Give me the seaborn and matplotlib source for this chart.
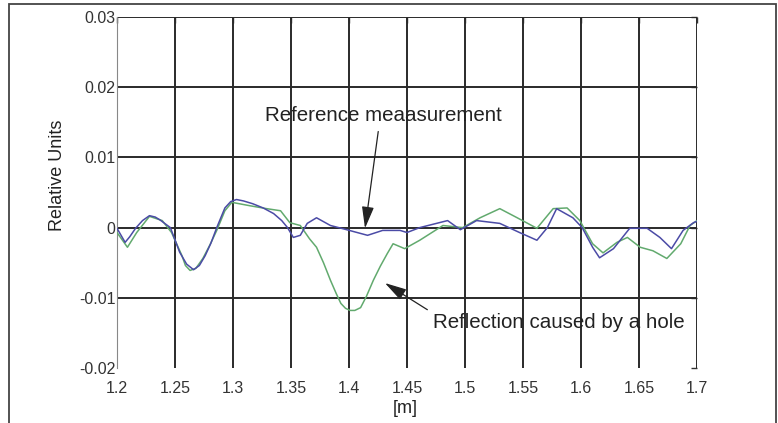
import numpy as np
import pandas as pd
import seaborn as sns
import matplotlib.pyplot as plt
from matplotlib.patches import Rectangle

# positions along the pipe [m]
x_ref = [1.200, 1.207, 1.211, 1.216, 1.222, 1.228, 1.233, 1.237, 1.246, 1.254,
         1.260, 1.266, 1.271, 1.276, 1.281, 1.286, 1.293, 1.298, 1.303, 1.309,
         1.317, 1.326, 1.335, 1.342, 1.347, 1.352, 1.358, 1.364, 1.372, 1.384,
         1.398, 1.416, 1.429, 1.444, 1.450, 1.461, 1.485, 1.496, 1.510, 1.530,
         1.547, 1.562, 1.571, 1.579, 1.593, 1.601, 1.610, 1.616, 1.628, 1.642,
         1.657, 1.668, 1.678, 1.688, 1.697, 1.700]
# reference measurement, in 1e-3 relative units
y_ref = [-0.1, -2.1, -1.3, -0.1, 1.0, 1.7, 1.5, 1.1, 0.0, -3.5,
         -5.2, -6.0, -5.4, -4.0, -2.2, 0.0, 2.8, 3.7, 4.0, 3.8,
         3.4, 2.8, 2.0, 1.0, 0.0, -1.4, -1.1, 0.6, 1.4, 0.3,
         -0.3, -1.1, -0.4, -0.4, -0.7, 0.0, 1.0, -0.3, 1.0, 0.6,
         -0.7, -1.8, 0.0, 2.7, 1.4, 0.0, -2.8, -4.3, -3.0, -0.1,
         -0.1, -1.4, -3.0, -0.4, 0.7, 0.9]

x_hole = [1.200, 1.209, 1.217, 1.228, 1.239, 1.247, 1.256, 1.259, 1.263, 1.268,
          1.274, 1.280, 1.286, 1.293, 1.299, 1.315, 1.329, 1.341, 1.349, 1.358,
          1.366, 1.372, 1.378, 1.384, 1.389, 1.393, 1.397, 1.401, 1.405, 1.410,
          1.415, 1.421, 1.427, 1.433, 1.438, 1.448, 1.461, 1.481, 1.498, 1.513,
          1.530, 1.545, 1.562, 1.576, 1.588, 1.599, 1.610, 1.619, 1.631, 1.640,
          1.651, 1.662, 1.674, 1.686, 1.694, 1.700]
# measurement with the hole, in 1e-3 relative units
y_hole = [-0.7, -2.8, -0.7, 1.6, 1.0, -0.7, -4.0, -5.4, -6.1, -5.8,
          -4.4, -2.5, -0.4, 2.4, 3.6, 3.1, 2.7, 2.4, 0.7, 0.3,
          -1.6, -2.8, -5.0, -7.5, -9.4, -10.8, -11.5, -11.8, -11.8, -11.4,
          -9.8, -7.5, -5.5, -3.7, -2.3, -3.0, -1.8, 0.3, 0.0, 1.4,
          2.7, 1.4, -0.1, 2.7, 2.8, 1.0, -2.3, -3.6, -2.1, -1.4,
          -2.8, -3.3, -4.4, -2.3, 0.3, 1.0]

x_ticks = [1.2, 1.25, 1.3, 1.35, 1.4, 1.45, 1.5, 1.55, 1.6, 1.65, 1.7]
x_labels = ['1.2', '1.25', '1.3', '1.35', '1.4', '1.45', '1.5', '1.55', '1.6', '1.65', '1.7']
y_ticks = [-0.02, -0.01, 0.0, 0.01, 0.02, 0.03]
y_labels = ['-0.02', '-0.01', '0', '0.01', '0.02', '0.03']

ref = pd.DataFrame({'x': x_ref, 'y': np.array(y_ref) * 1e-3})
hole = pd.DataFrame({'x': x_hole, 'y': np.array(y_hole) * 1e-3})

sns.set_style('white')
plt.rcParams['font.family'] = ['Liberation Sans', 'DejaVu Sans']

fig = plt.figure(figsize=(7.78, 4.23), dpi=100)
ax = fig.add_axes([117 / 778, 1 - 368 / 423, 580 / 778, 351 / 423])

# grid drawn by hand: no line at the bottom tick, thin spine on the left
for xv in x_ticks[1:]:
    ax.axvline(xv, color='#2a2a2a', lw=1.4, zorder=1)
for yv in y_ticks[1:]:
    ax.axhline(yv, color='#2a2a2a', lw=1.4, zorder=1)

sns.lineplot(data=hole, x='x', y='y', ax=ax, color='#62aa6e', lw=1.1,
             sort=False, estimator=None, zorder=3)
sns.lineplot(data=ref, x='x', y='y', ax=ax, color='#4b4ba6', lw=1.1,
             sort=False, estimator=None, zorder=4)

ax.set_xlim(1.2, 1.7)
ax.set_ylim(-0.02, 0.03)
ax.set_xticks(x_ticks)
ax.set_xticklabels(x_labels)
ax.set_yticks(y_ticks)
ax.set_yticklabels(y_labels)
ax.tick_params(axis='both', direction='in', length=4, width=1, colors='#333333',
               labelsize=11.5, labelcolor='#333333', top=True, right=True)
ax.tick_params(axis='x', pad=9)
ax.tick_params(axis='y', pad=1)

for side in ['top', 'right', 'bottom']:
    ax.spines[side].set_visible(False)
ax.spines['left'].set_color('#888888')
ax.spines['left'].set_linewidth(0.8)

ax.set_xlabel('[m]', fontsize=13, color='#222222', va='center')
ax.set_ylabel('Relative Units', fontsize=13, color='#222222', va='center')
ax.xaxis.set_label_coords(0.497, -0.114)
ax.yaxis.set_label_coords(-0.103, 0.55)

arrow = dict(arrowstyle='-|>,head_length=0.9,head_width=0.25', color='#222222',
             lw=0.9, shrinkA=2, shrinkB=0)
ax.annotate('Reference meaasurement', xy=(1.4138, -0.0001), xytext=(1.430, 0.0159),
            ha='center', va='center', fontsize=14.8, color='#222222',
            arrowprops=dict(arrow, relpos=(0.48, 0.0)))
ax.annotate('Reflection caused by a hole', xy=(1.431, -0.0079), xytext=(1.4724, -0.0122),
            ha='left', va='top', fontsize=14.8, color='#222222',
            arrowprops=dict(arrow, relpos=(0.0, 1.0)))

# outer frame of the figure, open at the bottom
fig.patches.append(Rectangle((9 / 778, -0.1), 767 / 778, 1.1 - 4 / 423,
                             transform=fig.transFigure, fill=False,
                             edgecolor='#444444', lw=1.3))

fig.savefig('out.png', dpi=100)
